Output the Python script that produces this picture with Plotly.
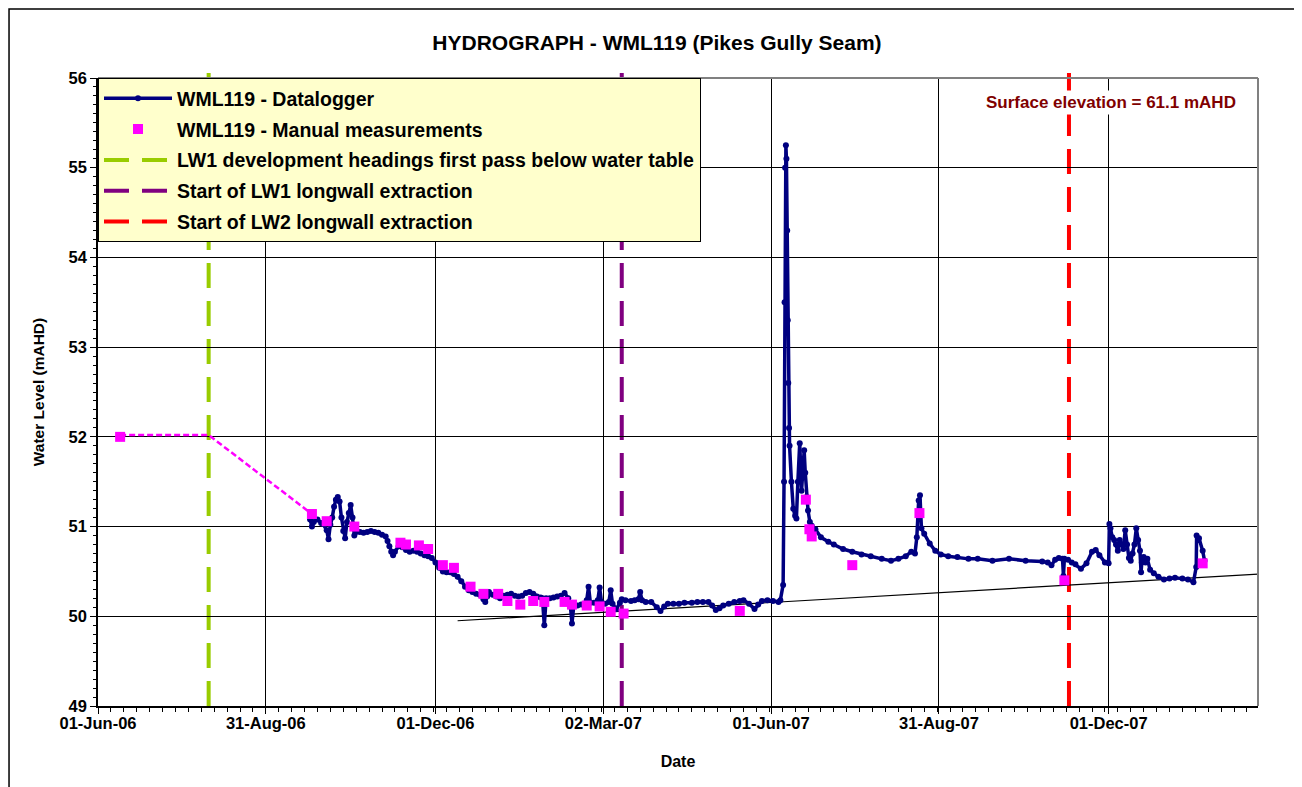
import plotly.graph_objects as go

# ---------------- data ----------------
logger_dates = [
    "2006-09-24", "2006-09-25", "2006-09-26", "2006-09-28", "2006-09-30", "2006-10-01",
    "2006-10-03", "2006-10-04", "2006-10-05", "2006-10-06", "2006-10-07", "2006-10-08",
    "2006-10-09", "2006-10-10", "2006-10-11", "2006-10-12", "2006-10-13", "2006-10-14",
    "2006-10-15", "2006-10-16", "2006-10-17", "2006-10-18", "2006-10-19", "2006-10-21",
    "2006-10-23", "2006-10-25", "2006-10-27", "2006-10-29", "2006-10-31", "2006-11-02",
    "2006-11-04", "2006-11-05", "2006-11-06", "2006-11-07", "2006-11-08", "2006-11-09",
    "2006-11-11", "2006-11-13", "2006-11-15", "2006-11-17", "2006-11-19", "2006-11-21",
    "2006-11-23", "2006-11-25", "2006-11-27", "2006-11-29", "2006-12-01", "2006-12-03",
    "2006-12-05", "2006-12-07", "2006-12-09", "2006-12-11", "2006-12-13", "2006-12-15",
    "2006-12-17", "2006-12-19", "2006-12-21", "2006-12-23", "2006-12-25", "2006-12-27",
    "2006-12-28", "2006-12-29", "2006-12-30", "2007-01-01", "2007-01-03", "2007-01-05",
    "2007-01-07", "2007-01-09", "2007-01-11", "2007-01-13", "2007-01-15", "2007-01-17",
    "2007-01-19", "2007-01-21", "2007-01-23", "2007-01-25", "2007-01-27", "2007-01-28",
    "2007-01-29", "2007-01-30", "2007-02-01", "2007-02-03", "2007-02-05", "2007-02-07",
    "2007-02-09", "2007-02-11", "2007-02-12", "2007-02-13", "2007-02-14", "2007-02-16",
    "2007-02-18", "2007-02-20", "2007-02-21", "2007-02-22", "2007-02-23", "2007-02-25",
    "2007-02-27", "2007-02-28", "2007-03-01", "2007-03-03", "2007-03-05", "2007-03-06",
    "2007-03-07", "2007-03-09", "2007-03-11", "2007-03-12", "2007-03-14", "2007-03-17",
    "2007-03-19", "2007-03-21", "2007-03-22", "2007-03-23", "2007-03-25", "2007-03-28",
    "2007-03-31", "2007-04-02", "2007-04-04", "2007-04-06", "2007-04-09", "2007-04-12",
    "2007-04-15", "2007-04-19", "2007-04-22", "2007-04-25", "2007-04-28", "2007-04-30",
    "2007-05-02", "2007-05-04", "2007-05-06", "2007-05-09", "2007-05-12", "2007-05-15",
    "2007-05-17", "2007-05-20", "2007-05-23", "2007-05-25", "2007-05-27", "2007-05-30",
    "2007-06-02", "2007-06-05", "2007-06-06", "2007-06-07 12:00", "2007-06-08 00:00",
    "2007-06-08 07:00", "2007-06-08 14:00", "2007-06-09 00:00", "2007-06-09 07:00",
    "2007-06-09 17:00", "2007-06-10 00:00", "2007-06-10 07:00", "2007-06-10 17:00",
    "2007-06-11", "2007-06-12", "2007-06-13", "2007-06-14", "2007-06-14 17:00",
    "2007-06-15 12:00", "2007-06-16 12:00", "2007-06-17 12:00", "2007-06-18 05:00",
    "2007-06-18 22:00", "2007-06-19 12:00", "2007-06-20 05:00", "2007-06-21", "2007-06-22",
    "2007-06-23", "2007-06-25", "2007-06-28", "2007-07-02", "2007-07-05", "2007-07-10",
    "2007-07-15", "2007-07-20", "2007-07-25", "2007-07-31", "2007-08-05", "2007-08-09",
    "2007-08-13", "2007-08-16", "2007-08-18", "2007-08-19", "2007-08-20", "2007-08-20 17:00",
    "2007-08-21 12:00", "2007-08-23", "2007-08-26", "2007-08-29", "2007-09-01", "2007-09-05",
    "2007-09-10", "2007-09-16", "2007-09-21", "2007-09-29", "2007-10-08", "2007-10-17",
    "2007-10-26", "2007-10-29", "2007-10-31", "2007-11-02", "2007-11-04", "2007-11-06",
    "2007-11-06 12:00", "2007-11-07", "2007-11-09", "2007-11-11", "2007-11-13", "2007-11-16",
    "2007-11-19", "2007-11-22", "2007-11-24", "2007-11-26", "2007-11-29", "2007-12-01",
    "2007-12-01 10:00", "2007-12-02", "2007-12-03", "2007-12-04", "2007-12-05", "2007-12-06",
    "2007-12-07", "2007-12-08", "2007-12-09", "2007-12-10", "2007-12-11", "2007-12-12",
    "2007-12-13", "2007-12-14", "2007-12-15", "2007-12-16", "2007-12-17", "2007-12-18",
    "2007-12-18 14:00", "2007-12-19", "2007-12-20", "2007-12-21", "2007-12-22",
    "2007-12-23 12:00", "2007-12-25 12:00", "2007-12-28", "2007-12-31", "2008-01-03",
    "2008-01-06", "2008-01-10", "2008-01-13", "2008-01-16", "2008-01-17 12:00",
    "2008-01-17 17:00", "2008-01-19", "2008-01-21", "2008-01-22",
]
logger_values = [
    51.08, 51.00, 51.05, 51.08, 51.04, 51.03,
    50.96, 50.86, 51.02, 51.10, 51.22, 51.30,
    51.33, 51.28, 51.10, 50.95, 50.87, 51.05,
    51.15, 51.24, 51.10, 50.90, 50.94, 50.94,
    50.93, 50.94, 50.95, 50.94, 50.93, 50.91,
    50.89, 50.84, 50.78, 50.72, 50.68, 50.72,
    50.78, 50.77, 50.74, 50.72, 50.73, 50.72,
    50.70, 50.68, 50.67, 50.65, 50.60, 50.54,
    50.50, 50.49, 50.49, 50.47, 50.44, 50.39,
    50.33, 50.29, 50.27, 50.25, 50.24, 50.19,
    50.16, 50.22, 50.27, 50.24, 50.22, 50.20,
    50.23, 50.24, 50.25, 50.23, 50.22, 50.23,
    50.26, 50.27, 50.25, 50.22, 50.21, 50.20,
    49.90, 50.20, 50.20, 50.21, 50.22, 50.23,
    50.26, 50.20, 50.15, 49.92, 50.12, 50.12,
    50.13, 50.14, 50.18, 50.33, 50.15, 50.15,
    50.18, 50.32, 50.16, 50.14, 50.16, 50.29,
    50.14, 50.08, 50.15, 50.19, 50.18, 50.17,
    50.18, 50.19, 50.27, 50.18, 50.16, 50.16,
    50.10, 50.06, 50.11, 50.14, 50.14, 50.14,
    50.15, 50.15, 50.16, 50.16, 50.16, 50.12,
    50.07, 50.09, 50.12, 50.14, 50.16, 50.17,
    50.18, 50.14, 50.08, 50.13, 50.17, 50.18,
    50.17, 50.16, 50.18, 50.35, 51.50,
    53.50, 55.00, 55.25, 55.10,
    54.30, 53.30, 52.60, 52.10,
    51.90, 51.50, 51.20, 51.12, 51.09,
    51.50, 51.93, 51.40, 51.60,
    51.85, 51.60, 51.33, 51.18, 51.05,
    51.01, 50.97, 50.88, 50.83, 50.80, 50.75,
    50.72, 50.69, 50.67, 50.64, 50.62, 50.64,
    50.67, 50.72, 50.70, 50.88, 51.29, 51.35,
    50.98, 50.92, 50.81, 50.73, 50.69, 50.67,
    50.66, 50.64, 50.64, 50.62, 50.64, 50.62,
    50.61, 50.60, 50.57, 50.63, 50.65, 50.64,
    50.45, 50.64, 50.63, 50.60, 50.58, 50.53,
    50.59, 50.72, 50.74, 50.68, 50.60, 50.59,
    51.03, 50.98, 50.88, 50.85, 50.80, 50.73,
    50.85, 50.80, 50.75, 50.96, 50.80, 50.65,
    50.62, 50.70, 50.80, 50.98, 50.85, 50.73,
    50.49, 50.60, 50.66, 50.60, 50.64,
    50.52, 50.48, 50.44, 50.41, 50.42,
    50.43, 50.42, 50.41, 50.38, 50.55,
    50.90, 50.87, 50.73, 50.62,
]

manual_dates = [
    "2006-06-13", "2006-09-25", "2006-10-03", "2006-10-18", "2006-11-12", "2006-11-15",
    "2006-11-22", "2006-11-27", "2006-12-05", "2006-12-11", "2006-12-20", "2006-12-27",
    "2007-01-04", "2007-01-09", "2007-01-16", "2007-01-23", "2007-01-29", "2007-02-09",
    "2007-02-13", "2007-02-21", "2007-02-28", "2007-03-06", "2007-03-13", "2007-05-15",
    "2007-06-19 20:00", "2007-06-21 18:00", "2007-06-23", "2007-07-15", "2007-08-20 10:00",
    "2007-11-07", "2008-01-21",
]
manual_values = [
    52.00, 51.14, 51.06, 51.00, 50.82, 50.80,
    50.79, 50.75, 50.57, 50.54, 50.33, 50.25,
    50.25, 50.17, 50.13, 50.17, 50.16, 50.16,
    50.13, 50.12, 50.11, 50.05, 50.03, 50.06,
    51.30, 50.97, 50.89, 50.57, 51.15,
    50.40, 50.59,
]

# inferred water level before logger installation (dashed magenta)
proj_dates = ["2006-06-13", "2006-07-31", "2006-09-25"]
proj_values = [52.02, 52.02, 51.14]

# baseline trend line
trend_dates = ["2006-12-13", "2008-02-28"]
trend_values = [49.95, 50.48]

event_names = [
    "LW1 development headings first pass below water table",
    "Start of LW1 longwall extraction",
    "Start of LW2 longwall extraction",
]
event_dates = ["2006-07-31", "2007-03-12", "2007-11-09 12:00"]
event_colors = ["#99CC00", "#800080", "#FF0000"]

x_tick_dates = ["2006-06-01", "2006-08-31", "2006-12-01", "2007-03-02",
                "2007-06-01", "2007-08-31", "2007-12-01"]
x_range = ["2006-06-01", "2008-02-20"]
y_range = [49, 56]

FONT = "Liberation Sans, Arial, sans-serif"

fig = go.Figure()

fig.add_trace(go.Scatter(
    x=proj_dates, y=proj_values, mode="lines",
    line=dict(color="#FF00FF", width=2.5, dash="6px,3px"),
    showlegend=False, hoverinfo="skip",
))
fig.add_trace(go.Scatter(
    x=trend_dates, y=trend_values, mode="lines",
    line=dict(color="#000000", width=1.2),
    showlegend=False, hoverinfo="skip",
))
fig.add_trace(go.Scatter(
    x=logger_dates, y=logger_values, mode="lines+markers",
    name="WML119 - Datalogger",
    line=dict(color="#000080", width=3.5),
    marker=dict(color="#000080", size=6, symbol="circle"),
    legendrank=1, legendgroup="g1",
))
fig.add_trace(go.Scatter(
    x=manual_dates, y=manual_values, mode="markers",
    name="WML119 - Manual measurements",
    marker=dict(color="#FF00FF", size=10, symbol="square"),
    legendrank=2, legendgroup="g2",
))

for i, (nm, d, c) in enumerate(zip(event_names, event_dates, event_colors)):
    fig.add_shape(
        type="line", xref="x", yref="paper",
        x0=d, x1=d, y0=1.008, y1=-0.007,
        line=dict(color=c, width=4, dash="25px,13px"),
        layer="between", showlegend=True, name=nm,
        legendrank=3 + i, legendgroup="e%d" % i,
    )

# plot-area top/right border (grey) and outer chart border
fig.add_shape(type="line", xref="paper", yref="paper", x0=0, x1=1, y0=1, y1=1,
              line=dict(color="#808080", width=2), layer="above")
fig.add_shape(type="line", xref="paper", yref="paper", x0=1, x1=1, y0=0, y1=1,
              line=dict(color="#808080", width=2), layer="above")
fig.add_shape(type="rect", xref="paper", yref="paper",
              x0=-0.0767, x1=1.0336, y0=-0.2, y1=1.1099,
              line=dict(color="#000000", width=1.5), layer="above")

fig.add_annotation(
    text="Surface elevation = 61.1 mAHD", xref="paper", yref="paper",
    x=0.873, y=0.961, xanchor="center", yanchor="middle", showarrow=False,
    font=dict(family=FONT, size=17, color="#800000", weight="bold"),
    bgcolor="#FFFFFF", borderpad=2,
)

fig.update_layout(
    width=1294, height=779,
    margin=dict(l=90, r=44, t=70, b=81),
    paper_bgcolor="#FFFFFF", plot_bgcolor="#FFFFFF",
    font=dict(family=FONT, color="#000000"),
    title=dict(
        text="HYDROGRAPH - WML119 (Pikes Gully Seam)",
        x=0.5015, xref="container", xanchor="center",
        y=0.955, yref="container", yanchor="middle",
        font=dict(family=FONT, size=21, color="#000000", weight="bold"),
    ),
    legend=dict(
        x=0, y=1, xanchor="left", yanchor="top",
        bgcolor="#FFFFCC", bordercolor="#000000", borderwidth=1,
        font=dict(family=FONT, size=19.5, color="#000000", weight="bold"),
        tracegroupgap=2.5, itemwidth=68,
    ),
    showlegend=True,
)

fig.update_xaxes(
    range=x_range, type="date",
    tickvals=x_tick_dates, tickformat="%d-%b-%y",
    tickfont=dict(family=FONT, size=16.5, color="#000000", weight="bold"),
    ticks="outside", ticklen=6, tickcolor="#000000", ticklabelstandoff=-5,
    showgrid=True, gridcolor="#000000", gridwidth=1,
    showline=True, linecolor="#000000", linewidth=1.5,
    zeroline=False,
    minor=dict(ticks="outside", ticklen=4, tickcolor="#000000",
               dtick=7 * 86400000, tick0="2006-06-01", showgrid=False),
    title=dict(text="Date", standoff=25,
               font=dict(family=FONT, size=16, color="#000000", weight="bold")),
)
fig.update_yaxes(
    range=y_range, dtick=1, tick0=49,
    tickfont=dict(family=FONT, size=16.5, color="#000000", weight="bold"),
    ticks="outside", ticklen=6, tickcolor="#000000",
    showgrid=True, gridcolor="#000000", gridwidth=1,
    showline=True, linecolor="#000000", linewidth=1.5,
    zeroline=False,
    minor=dict(ticks="outside", ticklen=3, tickcolor="#000000",
               dtick=0.1, showgrid=False),
    title=dict(text="Water Level (mAHD)", standoff=20,
               font=dict(family=FONT, size=15.5, color="#000000", weight="bold")),
)

fig.write_html("out.html")
